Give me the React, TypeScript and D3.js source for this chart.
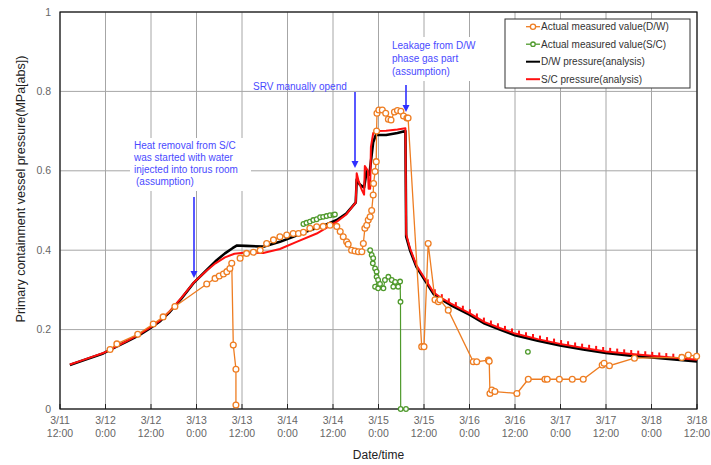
import React from 'react';
import * as d3 from 'd3';

// Time is in hours elapsed since 3/11 12:00
const xTickHours = [0, 12, 24, 36, 48, 60, 72, 84, 96, 108, 120, 132, 144, 156, 168];
const xTickDates = ['3/11', '3/12', '3/12', '3/13', '3/13', '3/14', '3/14', '3/15', '3/15', '3/16', '3/16', '3/17', '3/17', '3/18', '3/18'];
const xTickTimes = ['12:00', '0:00', '12:00', '0:00', '12:00', '0:00', '12:00', '0:00', '12:00', '0:00', '12:00', '0:00', '12:00', '0:00', '12:00'];
const yTicks = [0, 0.2, 0.4, 0.6, 0.8, 1];
const yTickLabels = ['0', '0.2', '0.4', '0.6', '0.8', '1'];

const legendLabels = [
  'Actual measured value(D/W)',
  'Actual measured value(S/C)',
  'D/W pressure(analysis)',
  'S/C pressure(analysis)',
];

const dwAnalysis: [number, number][] = [
  [2.6, 0.111], [6, 0.122], [11.4, 0.14], [14.5, 0.155], [17.6, 0.17], [20.7, 0.185], [23.7, 0.203],
  [26.5, 0.222], [29, 0.245], [32, 0.278], [35.2, 0.317], [38.7, 0.35], [41, 0.372], [43.5, 0.392],
  [45.5, 0.405], [46.7, 0.412], [49, 0.411], [53.6, 0.409], [58, 0.421], [61.5, 0.434], [65, 0.447],
  [69, 0.46], [73, 0.476], [75.5, 0.492], [77.8, 0.518], [78.0, 0.52], [78.25, 0.578], [79.1, 0.565],
  [80.2, 0.558], [80.9, 0.6], [81.6, 0.59], [82.2, 0.64], [82.6, 0.672], [83.3, 0.69], [86, 0.69],
  [89, 0.695], [91.1, 0.7], [91.3, 0.434], [92.3, 0.4], [94, 0.358], [96.7, 0.317], [98.5, 0.29],
  [100.2, 0.278], [103, 0.262], [108.1, 0.237], [112, 0.215], [116, 0.2], [120, 0.186], [126, 0.172],
  [131.9, 0.16], [138, 0.15], [144, 0.141], [150, 0.135], [156, 0.13], [162, 0.125], [168, 0.12],
];

const scAnalysis: [number, number][] = [
  [2.6, 0.112], [6, 0.123], [11.4, 0.141], [14.5, 0.156], [17.6, 0.171], [20.7, 0.187], [23.7, 0.205],
  [26.5, 0.224], [29, 0.247], [32, 0.28], [35.2, 0.318], [38.7, 0.349], [41, 0.367], [43.5, 0.382],
  [46, 0.391], [49, 0.394], [53.6, 0.393], [58, 0.403], [62.4, 0.421], [67.7, 0.442], [73, 0.472],
  [75.5, 0.49], [77.8, 0.518], [78.0, 0.52], [78.25, 0.594], [78.8, 0.572], [79.6, 0.552], [80.2, 0.54],
  [80.4, 0.612], [81.2, 0.6], [81.4, 0.555], [81.8, 0.555], [82.0, 0.66], [82.6, 0.695], [83.3, 0.7],
  [86, 0.701], [89, 0.704], [91.1, 0.707], [91.3, 0.44], [92.3, 0.405], [94, 0.362], [96.7, 0.321],
  [98.5, 0.294], [100.2, 0.282], [103, 0.266], [108.1, 0.241], [112, 0.219], [116, 0.204], [120, 0.19],
  [126, 0.176], [131.9, 0.164], [138, 0.154], [144, 0.145], [150, 0.139], [156, 0.134], [162, 0.129],
  [168, 0.124],
];

const dwMeasured1: [number, number][] = [
  [13.2, 0.15], [15.0, 0.164], [20.5, 0.188], [24.6, 0.214], [27.2, 0.232], [30.3, 0.258], [38.7, 0.315],
  [40.9, 0.329], [42.0, 0.335], [43.1, 0.34], [44.0, 0.346], [44.8, 0.354], [45.3, 0.367], [45.7, 0.161],
  [46.4, 0.1], [46.4, 0.01],
];
const dwMeasured2: [number, number][] = [
  [47.5, 0.38], [49.2, 0.392], [51.0, 0.395], [52.8, 0.4], [54.5, 0.417], [56.3, 0.426], [58.0, 0.434],
  [59.8, 0.438], [61.5, 0.442], [62.9, 0.442], [64.2, 0.445], [65.9, 0.455], [67.7, 0.459], [69.4, 0.46],
  [71.2, 0.463], [73.0, 0.46], [73.9, 0.447], [74.7, 0.434], [75.6, 0.421], [76.0, 0.415], [76.9, 0.4],
  [77.8, 0.398], [78.7, 0.396], [79.6, 0.396], [80.0, 0.417], [80.4, 0.455], [80.9, 0.463], [81.3, 0.476],
  [81.8, 0.484], [82.2, 0.5], [82.6, 0.539], [82.7, 0.568], [83.1, 0.598], [83.4, 0.623], [83.5, 0.7],
  [83.6, 0.745], [84.1, 0.753], [85.0, 0.753], [85.9, 0.745], [86.6, 0.73], [87.3, 0.728], [88.2, 0.748],
  [89.0, 0.752], [89.9, 0.75], [90.6, 0.738], [91.5, 0.733], [91.8, 0.733], [95.4, 0.157], [96.0, 0.157],
  [97.1, 0.417], [98.9, 0.275], [99.8, 0.27], [100.2, 0.275], [102.4, 0.249], [109.0, 0.119], [109.9, 0.119],
  [113.0, 0.123], [113.2, 0.12], [113.4, 0.039], [113.9, 0.048], [114.7, 0.044], [120.5, 0.039],
  [123.5, 0.075], [127.9, 0.075], [128.5, 0.075], [131.7, 0.075], [135.1, 0.075], [138.0, 0.075],
  [143.0, 0.111], [143.5, 0.115], [144.9, 0.109], [151.5, 0.128], [164.0, 0.13], [165.7, 0.136],
  [167.9, 0.133],
];
const scMeasured1: [number, number][] = [
  [64.2, 0.466], [65.0, 0.469], [65.9, 0.472], [66.8, 0.476], [67.7, 0.478], [68.6, 0.483], [69.4, 0.484],
  [70.3, 0.486], [71.2, 0.488], [72.1, 0.489], [72.5, 0.49],
];
const scMeasured2: [number, number][] = [
  [81.8, 0.4], [82.2, 0.388], [82.6, 0.38], [82.5, 0.367], [83.1, 0.354], [83.5, 0.346], [83.5, 0.333],
  [83.9, 0.325], [83.1, 0.308], [83.9, 0.304], [84.4, 0.315], [85.3, 0.304], [85.7, 0.325], [86.6, 0.333],
  [87.5, 0.325], [87.9, 0.308], [88.4, 0.32], [89.2, 0.308], [89.7, 0.321], [89.8, 0.27], [89.85, 0.0],
  [91.25, 0.0],
];
const scMeasured3: [number, number][] = [[123.4, 0.144]];

const dwMeasured = [dwMeasured1, dwMeasured2];
const scMeasured = [scMeasured1, scMeasured2, scMeasured3];

const ORANGE = '#ee7d22';
const GREEN = '#4f9a2c';
const RED = '#ff1010';
const BLUE = '#2f2fff';
const BLUE_TEXT = '#4a4aff';
const FONT = '"Liberation Sans", Arial, sans-serif';

export default function App() {
  const W = 711;
  const H = 465;
  const x = d3.scaleLinear().domain([0, 168]).range([60, 697]);
  const y = d3.scaleLinear().domain([0, 1]).range([409, 12]);
  const line = d3
    .line<[number, number]>()
    .x((d) => x(d[0]))
    .y((d) => y(d[1]));

  // small spike decorations of the S/C analysis trace
  const spikeTimes = d3.range(97, 168, 1.85);
  const scInterp = (t: number) => {
    const i = d3.bisector((d: [number, number]) => d[0]).left(scAnalysis, t);
    const a = scAnalysis[Math.max(0, i - 1)];
    const b = scAnalysis[Math.min(scAnalysis.length - 1, i)];
    if (b[0] === a[0]) return a[1];
    return a[1] + ((b[1] - a[1]) * (t - a[0])) / (b[0] - a[0]);
  };

  const arrow = (ax: number, y1: number, y2: number, key: string) => (
    <g key={key}>
      <line x1={ax} x2={ax} y1={y1} y2={y2 - 6} stroke={BLUE} strokeWidth={1.6} />
      <path d={`M${ax - 3.5},${y2 - 7} L${ax + 3.5},${y2 - 7} L${ax},${y2} Z`} fill={BLUE} />
    </g>
  );

  return (
    <svg
      width={W}
      height={H}
      style={{ position: 'absolute', left: 0, top: 0, background: '#fff' }}
      fontFamily={FONT}
    >
      <rect x={0} y={0} width={W} height={H} fill="#fff" />
      {/* gridlines */}
      {xTickHours.map((h) => (
        <line key={'gx' + h} x1={x(h)} x2={x(h)} y1={y(1)} y2={y(0)} stroke="#a6a6a6" strokeWidth={1} />
      ))}
      {yTicks.map((v) => (
        <line key={'gy' + v} x1={x(0)} x2={x(168)} y1={y(v)} y2={y(v)} stroke="#a6a6a6" strokeWidth={1} />
      ))}
      {/* ticks */}
      {xTickHours.map((h) => (
        <line key={'tx' + h} x1={x(h)} x2={x(h)} y1={y(0)} y2={y(0) - 5} stroke="#222" strokeWidth={1} />
      ))}

      {/* annotation boxes (white backgrounds) */}
      <rect x={130} y={138} width={121} height={53} fill="#fff" />
      <rect x={389} y={37} width={101} height={44} fill="#fff" />

      {/* plot border */}
      <rect x={x(0)} y={y(1)} width={x(168) - x(0)} height={y(0) - y(1)} fill="none" stroke="#111" strokeWidth={1.2} />

      {/* y tick labels */}
      {yTicks.map((v, i) => (
        <text key={'yl' + v} x={51} y={y(v) + 3.5} textAnchor="end" fontSize={10.5} fill="#666">
          {yTickLabels[i]}
        </text>
      ))}
      {/* x tick labels */}
      {xTickHours.map((h, i) => (
        <g key={'xl' + h}>
          <text x={x(h)} y={424} textAnchor="middle" fontSize={10.5} fill="#666">
            {xTickDates[i]}
          </text>
          <text x={x(h)} y={437} textAnchor="middle" fontSize={10.5} fill="#666">
            {xTickTimes[i]}
          </text>
        </g>
      ))}
      <text x={378.5} y={459} textAnchor="middle" fontSize={12} fill="#222">
        Date/time
      </text>
      <text
        transform={`translate(25,189) rotate(-90)`}
        textAnchor="middle"
        fontSize={12.5}
        fill="#222"
      >
        Primary containment vessel pressure(MPa[abs])
      </text>

      {/* analysis lines */}
      <path d={line(dwAnalysis) || ''} fill="none" stroke="#000" strokeWidth={2.6} strokeLinejoin="round" />
      <path d={line(scAnalysis) || ''} fill="none" stroke={RED} strokeWidth={2} strokeLinejoin="round" />
      {spikeTimes.map((t) => (
        <line
          key={'sp' + t}
          x1={x(t)}
          x2={x(t)}
          y1={y(scInterp(t))}
          y2={y(scInterp(t)) - 4}
          stroke={RED}
          strokeWidth={2}
        />
      ))}

      {/* measured D/W */}
      {dwMeasured.map((seg, si) => (
        <g key={'dw' + si}>
          <path d={line(seg) || ''} fill="none" stroke={ORANGE} strokeWidth={1.3} />
          {seg.map((d, i) => (
            <circle key={i} cx={x(d[0])} cy={y(d[1])} r={2.9} fill="#fff" stroke={ORANGE} strokeWidth={1.3} />
          ))}
        </g>
      ))}
      {/* measured S/C */}
      {scMeasured.map((seg, si) => (
        <g key={'sc' + si}>
          <path d={line(seg) || ''} fill="none" stroke={GREEN} strokeWidth={1.2} />
          {seg.map((d, i) => (
            <circle key={i} cx={x(d[0])} cy={y(d[1])} r={2.3} fill="#fff" stroke={GREEN} strokeWidth={1.3} />
          ))}
        </g>
      ))}

      {/* annotations */}
      <g fontSize={10} fill={BLUE_TEXT}>
        <text x={134} y={148.5}>Heat removal from S/C</text>
        <text x={134} y={160.5}>was started with water</text>
        <text x={134} y={172.5}>injected into torus room</text>
        <text x={136} y={185}>(assumption)</text>
        <text x={253} y={89.5}>SRV manually opend</text>
        <text x={392} y={49}>Leakage from D/W</text>
        <text x={392} y={62}>phase gas part</text>
        <text x={392} y={75}>(assumption)</text>
      </g>
      {arrow(194, 197, 278, 'a1')}
      {arrow(355, 92, 168, 'a2')}
      {arrow(406, 85, 112, 'a3')}

      {/* legend */}
      <rect x={505} y={19} width={185} height={69} fill="#fff" stroke="#333" strokeWidth={1} />
      {legendLabels.map((lab, i) => {
        const ly = 26.7 + i * 17.5;
        const col = i === 0 ? ORANGE : i === 1 ? GREEN : i === 2 ? '#000' : RED;
        return (
          <g key={'lg' + i}>
            <line x1={526} x2={540} y1={ly} y2={ly} stroke={col} strokeWidth={i >= 2 ? 2 : 1.3} />
            {i < 2 && <circle cx={533} cy={ly} r={i === 0 ? 2.6 : 2.2} fill="#fff" stroke={col} strokeWidth={1.3} />}
            <text x={541} y={ly + 3.5} fontSize={10} fill="#333">
              {lab}
            </text>
          </g>
        );
      })}
    </svg>
  );
}
